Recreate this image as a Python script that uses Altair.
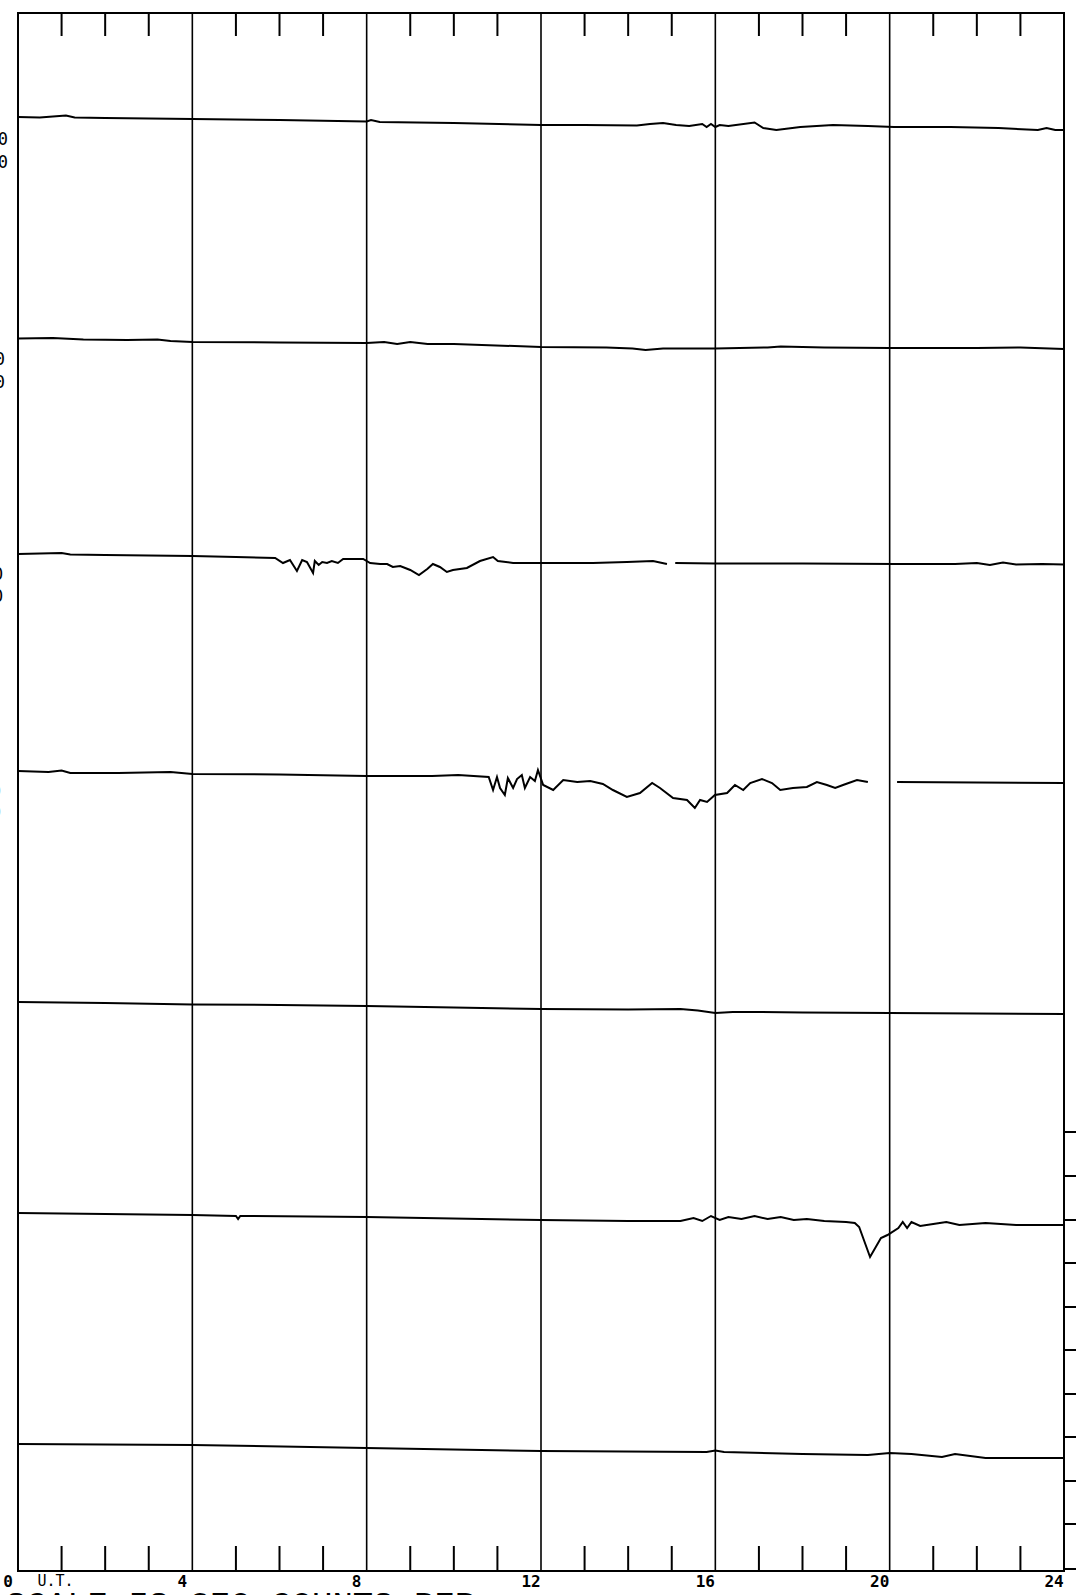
import altair as alt
import pandas as pd

# ---- data (hours U.T., vertical position on chart paper) ----
trace1_h = [0, 0.5, 1.1, 1.3, 2, 4, 6, 8, 8.1, 8.3, 10, 12, 13, 14.2, 14.5, 14.8, 15.1, 15.4, 15.7, 15.8, 15.9, 16.0, 16.1, 16.3, 16.9, 17.1, 17.4, 17.95, 18.7, 19.5, 20.1, 21.4, 22.5, 23.4, 23.6, 23.8, 24]
trace1_v = [117, 117.5, 115.5, 117.5, 118, 119, 120, 121.5, 120, 122, 123, 125, 125, 125.5, 124, 123, 125, 126, 124, 127, 124, 127, 125, 126, 122.5, 128, 130, 127, 125, 126, 127, 127, 128, 130, 128, 130, 130]

trace2_h = [0, 0.8, 1.5, 2.5, 3.2, 3.5, 4, 6, 8, 8.4, 8.7, 9.0, 9.4, 10, 12, 13.5, 14.1, 14.4, 14.8, 16, 17.2, 17.5, 18.5, 20, 22, 23, 24]
trace2_v = [338.5, 338, 339.5, 340, 339.5, 341, 342, 342.5, 343, 342, 344, 342, 344, 344, 347, 347.5, 348.5, 350, 348.5, 348.5, 347.5, 346.5, 347.5, 348, 348, 347.5, 349]

trace3a_h = [0, 1, 1.2, 2, 4, 5, 5.9, 6.08, 6.24, 6.40, 6.52, 6.63, 6.77, 6.81, 6.9, 6.98, 7.09, 7.2, 7.34, 7.46, 7.92, 8.08, 8.31, 8.47, 8.6, 8.77, 9.0, 9.2, 9.39, 9.52, 9.68, 9.84, 9.98, 10.3, 10.6, 10.9, 11.01, 11.36, 12.05, 12.83, 13.19, 13.97, 14.57, 14.89]
trace3a_v = [554, 553, 554.5, 555, 556, 557, 558, 563, 560, 571, 560, 562, 573, 561, 565, 562, 563, 561, 563, 559, 559, 563, 564, 564, 567, 566, 570, 575, 569, 564, 567, 572, 570, 568, 561, 557, 561, 563, 563, 563, 563, 562, 561, 564]
trace3b_h = [15.08, 16, 18, 20.17, 21.5, 22.0, 22.3, 22.6, 22.9, 23.5, 24]
trace3b_v = [563, 563.5, 563.5, 564, 564, 563, 565, 562.5, 564.5, 564, 564.5]

trace4a_h = [0, 0.7, 1.0, 1.2, 2.3, 3.5, 4, 6, 8, 9.5, 10.1, 10.8, 10.9, 10.99, 11.06, 11.17, 11.24, 11.36, 11.45, 11.56, 11.63, 11.75, 11.86, 11.93, 12.05, 12.28, 12.51, 12.83, 13.13, 13.42, 13.65, 13.97, 14.27, 14.55, 14.73, 15.03, 15.35, 15.53, 15.65, 15.81, 15.99, 16.27, 16.45, 16.64, 16.8, 17.07, 17.3, 17.49, 17.78, 18.1, 18.33, 18.56, 18.75, 18.93, 19.25, 19.5]
trace4a_v = [771, 772, 770.5, 773, 773, 772, 774, 774.5, 776, 776, 775, 777, 790, 777, 788, 795, 778, 788, 779, 775, 788, 777, 781, 770, 785, 790, 780, 782, 781, 784, 790, 797, 793, 783, 788, 798, 800, 808, 800, 802, 795, 793, 785, 790, 783, 779, 783, 790, 788, 787, 782, 785, 788, 785, 780, 782]
trace4b_h = [20.17, 22, 24]
trace4b_v = [782, 782.5, 783]

trace5_h = [0, 2, 4, 6, 8, 10, 12, 14, 15.2, 15.6, 16.0, 16.4, 17, 18, 20, 22, 24]
trace5_v = [1002, 1003, 1004.5, 1005, 1006, 1007.5, 1009, 1009.5, 1009, 1010.5, 1013, 1012, 1012, 1012.5, 1013, 1013.5, 1014]

trace6_h = [0, 2, 4, 5.0, 5.05, 5.1, 8, 12, 14, 15.2, 15.5, 15.7, 15.9, 16.1, 16.3, 16.6, 16.9, 17.2, 17.5, 17.8, 18.1, 18.5, 19.0, 19.2, 19.3, 19.55, 19.8, 19.95, 20.2, 20.3, 20.4, 20.5, 20.7, 21.0, 21.3, 21.6, 22.2, 22.9, 24]
trace6_v = [1213, 1214, 1215, 1216, 1219, 1216, 1217, 1220, 1221, 1221, 1218, 1221, 1216, 1220, 1217, 1219, 1216, 1219, 1217, 1220, 1219, 1221, 1222, 1223, 1227, 1257, 1238, 1235, 1228, 1222, 1228, 1222, 1226, 1224, 1222, 1225, 1223, 1225, 1225]

trace7_h = [0, 4, 8, 12, 15.8, 16.0, 16.2, 18, 19.5, 20, 20.5, 21.2, 21.5, 22.2, 24]
trace7_v = [1444, 1445, 1448, 1451, 1452, 1450.5, 1452, 1454, 1455, 1453, 1454, 1457, 1454, 1458, 1458]

grid_hours = [4, 8, 12, 16, 20]
minor_hours = [h for h in range(1, 24) if h % 4 != 0]
right_scale_ticks = [1132, 1176, 1220, 1263, 1307, 1350, 1394, 1437, 1481, 1524, 1569]

hour_labels = ["0", "4", "8", "12", "16", "20", "24"]
hour_label_pos = [0, 4, 8, 12, 16, 20, 24]
ut_label = "U.T."
left_label_text = ["10", "10", "10", "10", "10", "10", "10", "10"]
left_label_h = [-0.23, -0.23, -0.30, -0.30, -0.34, -0.34, -0.39, -0.39]
left_label_v = [140, 163, 360, 383, 575, 597, 792, 813]
footer = "SCALE IS   270 COUNTS PER"

# ---- build tables ----
segments = [
    ("1", trace1_h, trace1_v), ("2", trace2_h, trace2_v),
    ("3a", trace3a_h, trace3a_v), ("3b", trace3b_h, trace3b_v),
    ("4a", trace4a_h, trace4a_v), ("4b", trace4b_h, trace4b_v),
    ("5", trace5_h, trace5_v), ("6", trace6_h, trace6_v), ("7", trace7_h, trace7_v),
]
rows = []
for seg, hs, vs in segments:
    for i, (h, v) in enumerate(zip(hs, vs)):
        rows.append({"seg": seg, "order": i, "hour": h, "val": v})
traces = pd.DataFrame(rows)

W, H = 1046, 1558
xs = alt.Scale(domain=[0, 24], nice=False, zero=False)
ys = alt.Scale(domain=[13, 1571], reverse=True, nice=False, zero=False)

lines = alt.Chart(traces).mark_line(color="black", strokeWidth=2).encode(
    x=alt.X("hour:Q", scale=xs, axis=None),
    y=alt.Y("val:Q", scale=ys, axis=None),
    detail="seg:N",
    order="order:Q",
)

right_ticks = alt.Chart(pd.DataFrame({"val": right_scale_ticks})).mark_rule(
    color="black", strokeWidth=2).encode(
    y=alt.Y("val:Q", scale=ys, axis=None),
    x=alt.value(W + 1), x2=alt.value(W + 14))

grid = alt.Chart(pd.DataFrame({"hour": grid_hours})).mark_rule(
    color="black", strokeWidth=1.6).encode(
    x=alt.X("hour:Q", scale=xs, axis=None), y=alt.value(0), y2=alt.value(H))

top_ticks = alt.Chart(pd.DataFrame({"hour": minor_hours})).mark_rule(
    color="black", strokeWidth=2).encode(
    x=alt.X("hour:Q", scale=xs, axis=None), y=alt.value(0), y2=alt.value(23))

bottom_ticks = alt.Chart(pd.DataFrame({"hour": minor_hours})).mark_rule(
    color="black", strokeWidth=2).encode(
    x=alt.X("hour:Q", scale=xs, axis=None), y=alt.value(H - 25), y2=alt.value(H))

hour_text = alt.Chart(pd.DataFrame({"hour": hour_label_pos, "t": hour_labels})).mark_text(
    font="DejaVu Sans Mono", fontSize=16, fontWeight="bold", color="black", align="center",
    baseline="middle", dx=-10).encode(
    x=alt.X("hour:Q", scale=xs, axis=None), y=alt.value(H + 11), text="t:N")

ut_text = alt.Chart(pd.DataFrame({"hour": [1], "t": [ut_label]})).mark_text(
    font="DejaVu Sans Mono", fontSize=15, color="black", align="center",
    baseline="middle", dx=-6).encode(
    x=alt.X("hour:Q", scale=xs, axis=None), y=alt.value(H + 10), text="t:N")

left_text = alt.Chart(pd.DataFrame({"hour": left_label_h, "val": left_label_v, "t": left_label_text})).mark_text(
    font="DejaVu Sans Mono", fontSize=17, color="black", align="right",
    baseline="middle").encode(
    x=alt.X("hour:Q", scale=xs, axis=None), y=alt.Y("val:Q", scale=ys, axis=None), text="t:N")

footer_text = alt.Chart(pd.DataFrame({"hour": [0], "t": [footer]})).mark_text(
    font="Liberation Mono", fontSize=34, color="black", align="left",
    baseline="alphabetic", dx=-12).encode(
    x=alt.X("hour:Q", scale=xs, axis=None), y=alt.value(H + 44), text="t:N")

chart = alt.layer(
    grid, top_ticks, bottom_ticks, right_ticks, lines, hour_text, ut_text, left_text, footer_text
).properties(
    width=W, height=H,
    autosize=alt.AutoSizeParams(type="none"),
    padding={"left": 18, "top": 13, "right": 12, "bottom": 24},
    background="white",
).configure_view(stroke="black", strokeWidth=2)

chart.save("out.html", embed_options={"renderer": "svg", "actions": False})
